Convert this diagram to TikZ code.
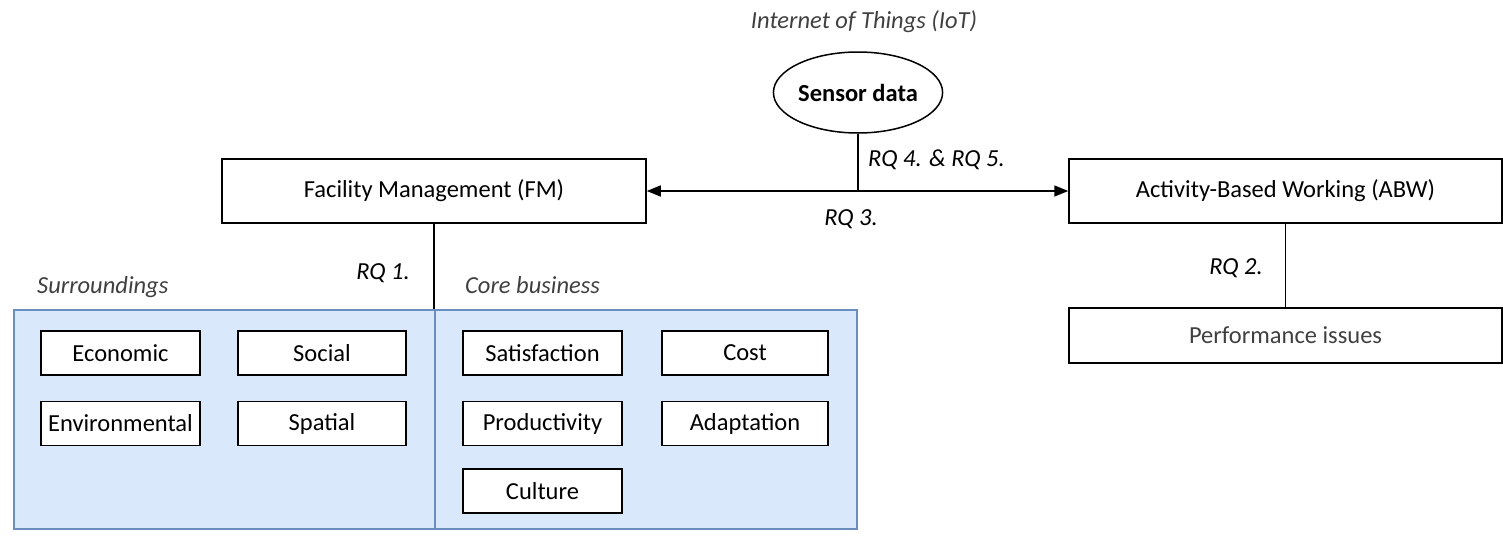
\documentclass[tikz,border=0pt]{standalone}
\usepackage{fontspec}
\setmainfont{Carlito}
\usetikzlibrary{arrows.meta,shapes.geometric}
\definecolor{bluefill}{HTML}{DAE8FC}
\definecolor{blueline}{HTML}{6C8EBF}
\definecolor{labelgray}{HTML}{404040}
\tikzset{
  box/.style={draw=black,line width=1.5pt,fill=white,rectangle,inner sep=0pt,font=\fontsize{24.5}{29}\selectfont},
  smallbox/.style={box,minimum height=44pt},
  panel/.style={draw=blueline,line width=1.5pt,fill=bluefill},
  lbl/.style={inner sep=0pt,font=\fontsize{24.5}{29}\selectfont\itshape},
  conn/.style={line width=1.5pt,draw=black},
  blk/.tip={Triangle[length=14pt,width=11pt]}
}
\begin{document}
\begin{tikzpicture}[x=1pt,y=-1pt]
\useasboundingbox (0,0) rectangle (1503,538);
% blue panels
\node[panel,rectangle,minimum width=421pt,minimum height=219pt,inner sep=0pt,anchor=north west] (surr) at (13,309) {};
\node[panel,rectangle,minimum width=422pt,minimum height=219pt,inner sep=0pt,anchor=north west] (core) at (434,309) {};
% main boxes
\node[box,minimum width=424pt,minimum height=64pt] (fm) at (434,191) {Facility Management (FM)};
\node[box,minimum width=433pt,minimum height=64pt] (abw) at (1285.5,191) {Activity-Based Working (ABW)};
\node[box,minimum width=433pt,minimum height=55pt,text=labelgray] (perf) at (1285.5,335.5) {Performance issues};
\node[draw=black,line width=1.5pt,fill=white,ellipse,minimum width=168pt,minimum height=81pt,inner sep=0pt,font=\fontsize{24.5}{29}\selectfont\bfseries] (sensor) at (858,92.5) {Sensor data};
% small boxes
\node[smallbox,minimum width=159pt] (eco) at (120.5,353) {Economic};
\node[smallbox,minimum width=168pt] (soc) at (322,353) {Social};
\node[smallbox,minimum width=159pt] (env) at (120.5,423.5) {Environmental};
\node[smallbox,minimum width=168pt] (spa) at (322,423.5) {Spatial};
\node[smallbox,minimum width=159pt] (sat) at (542.5,353) {Satisfaction};
\node[smallbox,minimum width=166pt] (cost) at (745,353) {Cost};
\node[smallbox,minimum width=159pt] (prod) at (542.5,423.5) {Productivity};
\node[smallbox,minimum width=166pt] (adap) at (745,423.5) {Adaptation};
\node[smallbox,minimum width=159pt] (cult) at (542.5,491) {Culture};
% labels
\node[lbl,text=labelgray] (iot) at (864,22) {Internet of Things (IoT)};
\node[lbl,anchor=west] (rq45) at (868,160) {RQ 4. \& RQ 5.};
\node[lbl] (rq3) at (851,219) {RQ 3.};
\node[lbl,anchor=east] (rq1) at (410,273) {RQ 1.};
\node[lbl,anchor=east] (rq2) at (1263,268) {RQ 2.};
\node[lbl,anchor=west,text=labelgray] (surrl) at (37,287) {Surroundings};
\node[lbl,anchor=west,text=labelgray] (corel) at (465,285) {Core business};
% connectors
\coordinate (j) at (sensor.south |- fm.east);
\draw[conn,blk-blk] (fm.east) -- (abw.west);
\draw[conn] (sensor.south) -- (j);
\draw[conn] (fm.south) -- (core.north west);
\draw[conn] (abw.south) -- (perf.north);
\end{tikzpicture}
\end{document}
